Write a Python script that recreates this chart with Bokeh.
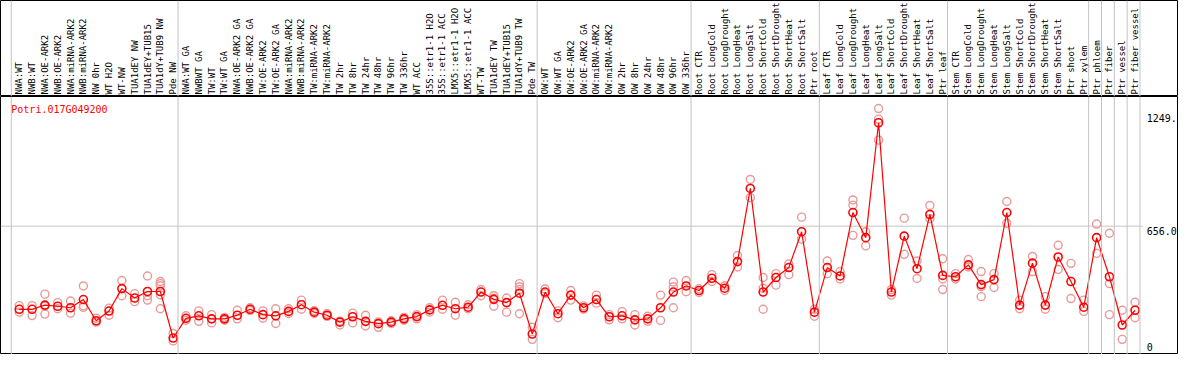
import numpy as np
from bokeh.plotting import figure
from bokeh.layouts import column
from bokeh.models import Range1d, Span
from bokeh.core.properties import value
from bokeh.embed import file_html
from bokeh.resources import INLINE

gene = "Potri.017G049200"

labels = [
    "NWA:WT", "NWB:WT", "NWA:OE-ARK2", "NWB:OE-ARK2", "NWA:miRNA-ARK2", "NWB:miRNA-ARK2",
    "NW 0hr", "WT H2O", "WT-NW", "TUA1dEY NW", "TUA1dEY+TUB15", "TUA1dY+TUB9 NW", "Pde NW",
    "NWA:WT GA", "NWBWT GA", "TW:WT", "TW:WT GA", "NWA:OE-ARK2 GA", "NWB:OE-ARK2 GA",
    "TW:OE-ARK2", "TW:OE-ARK2 GA", "NWA:miRNA-ARK2", "NWB:miRNA-ARK2", "TW:miRNA-ARK2",
    "TW:miRNA-ARK2", "TW 2hr", "TW 8hr", "TW 24hr", "TW 48hr", "TW 96hr", "TW 336hr", "WT ACC",
    "35S::etr1-1 H2O", "35S::etr1-1 ACC", "LMX5::etr1-1 H2O", "LMX5::etr1-1 ACC", "WT-TW",
    "TUA1dEY TW", "TUA1dEY+TUB15", "TUA1dY+TUB9 TW", "Pde TW",
    "OW:WT", "OW:WT GA", "OW:OE-ARK2", "OW:OE-ARK2 GA", "OW:miRNA-ARK2", "OW:miRNA-ARK2",
    "OW 2hr", "OW 8hr", "OW 24hr", "OW 48hr", "OW 96hr", "OW 336hr",
    "Root CTR", "Root LongCold", "Root LongDrought", "Root LongHeat", "Root LongSalt",
    "Root ShortCold", "Root ShortDrought", "Root ShortHeat", "Root ShortSalt", "Ptr root",
    "Leaf CTR", "Leaf LongCold", "Leaf LongDrought", "Leaf LongHeat", "Leaf LongSalt",
    "Leaf ShortCold", "Leaf ShortDrought", "Leaf ShortHeat", "Leaf ShortSalt", "Ptr leaf",
    "Stem CTR", "Stem LongCold", "Stem LongDrought", "Stem LongHeat", "Stem LongSalt",
    "Stem ShortCold", "Stem ShortDrought", "Stem ShortHeat", "Stem ShortSalt", "Ptr shoot",
    "Ptr xylem", "Ptr phloem", "Ptr fiber", "Ptr vessel", "Ptr fiber vessel",
]

means = [
    222, 222, 244, 238, 230, 273, 162, 213, 330, 281, 315, 315, 72,
    175, 188, 172, 172, 191, 222, 194, 188, 211, 246, 207, 191, 155, 183, 159, 147, 155,
    172, 184, 219, 243, 225, 233, 312, 274, 257, 306, 93,
    312, 199, 296, 230, 273, 183, 188, 167, 172, 230, 312, 344,
    320, 384, 332, 471, 853, 312, 388, 440, 627, 207,
    440, 396, 727, 596, 1196, 312, 604, 434, 717, 399,
    392, 454, 351, 377, 727, 244, 463, 244, 495, 367, 233,
    596, 392, 140, 217,
]

reps = [
    [241, 207], [241, 189], [301, 197, 238], [257, 225], [265, 202], [344, 232, 240],
    [175, 155], [228, 191], [372, 293], [304, 262], [396, 270, 293], [367, 356, 345, 298, 225],
    [96, 57],
    [188, 165], [214, 159], [194, 151], [180, 165], [217, 172], [230, 215], [214, 175],
    [225, 148], [225, 200], [270, 222], [215, 200], [200, 185], [160, 140], [202, 151],
    [191, 135], [156, 128], [162, 148], [180, 165], [194, 172], [230, 207], [270, 222],
    [259, 191], [246, 225], [325, 293], [293, 280, 238], [281, 207], [356, 340, 325, 199],
    [128, 65],
    [328, 304], [214, 178], [320, 270], [240, 222], [296, 254], [194, 167], [210, 172],
    [194, 140], [186, 159], [296, 164], [364, 340, 230], [372, 314],
    [330, 310], [403, 367], [345, 320], [503, 443], [900, 805], [388, 332, 222],
    [408, 348], [459, 403], [703, 588], [222, 186],
    [474, 408], [419, 380], [793, 766, 608], [627, 553], [1270, 1215, 1105], [325, 296],
    [698, 509], [474, 383], [764, 695], [486, 380, 325],
    [408, 380], [482, 443], [419, 340, 288], [408, 336], [785, 671], [270, 225],
    [498, 419], [288, 222], [556, 430], [462, 278], [270, 211],
    [667, 514], [619, 356, 194], [217, 65], [259, 178],
]

group_starts = [0, 13, 41, 53, 63, 73, 84, 85, 86, 87]
tick_values = [1249, 656, 0]
tick_labels = ["1249.", "656.0", "0"]

FONT = "DejaVu Sans Mono"
W = 1178
HEAD_H = 96
PLOT_H = 258
GRID = "#c4c4c4"
n = len(labels)

xr = Range1d(-19 / 13, (1194 - 19) / 13)
bounds = [s - 0.62 for s in group_starts] + [n - 0.62]

# ---------- header with rotated sample names ----------
head = figure(width=W, height=HEAD_H, x_range=xr, y_range=Range1d(0, HEAD_H),
              output_backend="svg", toolbar_location=None, min_border=0)
head.axis.visible = False
head.grid.visible = False
head.outline_line_color = "black"
head.background_fill_color = "white"
head.border_fill_color = "white"
for b in bounds:
    head.add_layout(Span(location=b, dimension="height", line_color=GRID, line_width=1))
head.text(x=list(range(n)), y=[2] * n, text=labels, angle=np.pi / 2,
          text_align="left", text_baseline="middle",
          text_font=value(FONT), text_font_size="9px", text_color="black")

# ---------- expression plot ----------
y0, y1 = -14, 1333
p = figure(width=W, height=PLOT_H, x_range=xr, y_range=Range1d(y0, y1),
           output_backend="svg", toolbar_location=None, min_border=0)
p.axis.visible = False
p.grid.visible = False
p.outline_line_color = "black"
p.background_fill_color = "white"
p.border_fill_color = "white"
for b in bounds:
    p.add_layout(Span(location=b, dimension="height", line_color=GRID, line_width=1))
p.segment(x0=[xr.start], y0=[tick_values[1]], x1=[n - 0.4], y1=[tick_values[1]],
          line_color=GRID, line_width=1)

rx = [i for i, r in enumerate(reps) for _ in r]
ry = [v for r in reps for v in r]
p.scatter(rx, ry, marker="circle", size=8, fill_color=None,
          line_color="#e89a9a", line_width=1.4)
xs = list(range(n))
p.line(xs, means, line_color="#ff0000", line_width=1.2)
p.scatter(xs, means, marker="circle", size=8, fill_color=None,
          line_color="#ff0000", line_width=1.6)

upp = (y1 - y0) / PLOT_H  # data units per pixel
p.text(x=[bounds[0]], y=[y1 - 7 * upp], text=[gene], text_align="left",
       text_baseline="top", text_font=value(FONT), text_font_size="10px",
       text_color="#ff0000")
p.text(x=[n - 0.1, n - 0.1], y=[tick_values[0] - upp, tick_values[1] - upp],
       text=tick_labels[:2], text_align="left", text_baseline="top",
       text_font=value(FONT), text_font_size="10px", text_color="black")
p.text(x=[n - 0.1], y=[tick_values[2] + upp], text=tick_labels[2:], text_align="left",
       text_baseline="bottom", text_font=value(FONT), text_font_size="10px",
       text_color="black")

layout = column(head, p, spacing=0)
open("out.html", "w").write(file_html(layout, INLINE))
